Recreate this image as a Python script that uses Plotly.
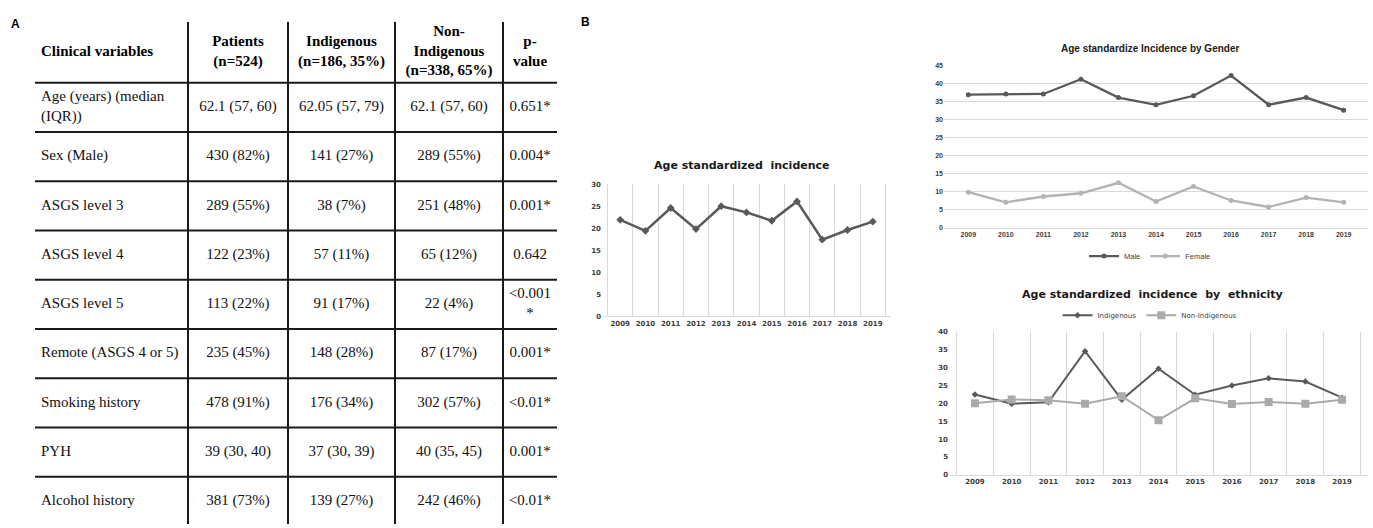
import plotly.graph_objects as go

# ---------------- data ----------------
years = ["2009", "2010", "2011", "2012", "2013", "2014", "2015", "2016", "2017", "2018", "2019"]
overall = [21.9, 19.4, 24.6, 19.8, 25.0, 23.6, 21.7, 26.1, 17.4, 19.6, 21.5]
male = [36.8, 37.0, 37.0, 41.1, 36.0, 34.0, 36.5, 42.1, 34.0, 36.0, 32.5]
female = [9.8, 7.0, 8.6, 9.5, 12.4, 7.2, 11.4, 7.5, 5.7, 8.3, 7.0]
indigenous = [22.5, 19.9, 20.3, 34.6, 21.0, 29.7, 22.4, 25.0, 27.0, 26.1, 21.6]
non_indigenous = [20.0, 21.1, 20.9, 19.9, 22.0, 15.3, 21.4, 19.8, 20.4, 19.9, 21.0]

table_header = ["Clinical variables", "Patients<br>(n=524)", "Indigenous<br>(n=186, 35%)",
                "Non-<br>Indigenous<br>(n=338, 65%)", "p-<br>value"]
variables = ["Age (years) (median<br>(IQR))", "Sex (Male)", "ASGS level 3", "ASGS level 4",
             "ASGS level 5", "Remote (ASGS 4 or 5)", "Smoking history", "PYH", "Alcohol history"]
patients = ["62.1 (57, 60)", "430 (82%)", "289 (55%)", "122 (23%)", "113 (22%)",
            "235 (45%)", "478 (91%)", "39 (30, 40)", "381 (73%)"]
indig = ["62.05 (57, 79)", "141 (27%)", "38 (7%)", "57 (11%)", "91 (17%)",
         "148 (28%)", "176 (34%)", "37 (30, 39)", "139 (27%)"]
nonind = ["62.1 (57, 60)", "289 (55%)", "251 (48%)", "65 (12%)", "22 (4%)",
          "87 (17%)", "302 (57%)", "40 (35, 45)", "242 (46%)"]
pvals = ["0.651*", "0.004*", "0.001*", "0.642", "&lt;0.001<br>*",
         "0.001*", "&lt;0.01*", "0.001*", "&lt;0.01*"]

# ---------------- style ----------------
W, H = 1373, 528
DARK = "#595959"
LIGHT = "#b3b3b3"
GRID = "#d9d9d9"
TICK = dict(family="DejaVu Sans", size=7, color="#404040", weight="bold")
SERIF = "Liberation Serif"

col_widths = [153, 100, 107, 108, 54]
header_h = 62
row_h = 50
table_left, table_right, table_top = 35, 557, 18

fig = go.Figure()

# ---------------- table (panel A) ----------------
col_edges = [0]
for w in col_widths:
    col_edges.append(col_edges[-1] + w)
centers = [(col_edges[i] + col_edges[i + 1]) / 2 for i in range(len(col_widths))]
n_rows = len(variables)
row_centers = [header_h + (i + 0.5) * row_h for i in range(n_rows)]
table_span = H - table_top

fig.add_trace(go.Scatter(
    x=[6], y=[header_h / 2], text=[table_header[0]], mode="text",
    textposition="middle right", xaxis="x4", yaxis="y4", showlegend=False,
    textfont=dict(family=SERIF, size=15, color="#000", weight="bold"), hoverinfo="skip"))
fig.add_trace(go.Scatter(
    x=centers[1:], y=[header_h / 2] * 4, text=table_header[1:], mode="text",
    textposition="middle center", xaxis="x4", yaxis="y4", showlegend=False,
    textfont=dict(family=SERIF, size=15, color="#000", weight="bold"), hoverinfo="skip"))
fig.add_trace(go.Scatter(
    x=[6] * n_rows, y=row_centers, text=variables, mode="text",
    textposition="middle right", xaxis="x4", yaxis="y4", showlegend=False,
    textfont=dict(family=SERIF, size=15, color="#111"), hoverinfo="skip"))
for ci, col in enumerate([patients, indig, nonind, pvals], start=1):
    fig.add_trace(go.Scatter(
        x=[centers[ci]] * n_rows, y=row_centers, text=col, mode="text",
        textposition="middle center", xaxis="x4", yaxis="y4", showlegend=False,
        textfont=dict(family=SERIF, size=15, color="#111"), hoverinfo="skip"))

line_style = dict(color="#1a1a1a", width=2)
for i in range(n_rows):
    yb = header_h + i * row_h
    fig.add_shape(type="line", xref="x4", yref="y4", x0=0, x1=col_edges[-1],
                  y0=yb, y1=yb, line=line_style)
for xe in col_edges[1:-1]:
    fig.add_shape(type="line", xref="x4", yref="y4", x0=xe, x1=xe,
                  y0=0, y1=table_span, line=line_style)

# ---------------- chart 1 ----------------
fig.add_trace(go.Scatter(
    x=years, y=overall, mode="lines+markers", xaxis="x", yaxis="y", showlegend=False,
    line=dict(color=DARK, width=2.5), marker=dict(symbol="diamond", size=6, color=DARK)))

# ---------------- chart 2 ----------------
fig.add_trace(go.Scatter(
    x=years, y=male, mode="lines+markers", name="Male", xaxis="x2", yaxis="y2",
    line=dict(color=DARK, width=2.3), marker=dict(symbol="circle", size=5, color=DARK),
    legend="legend"))
fig.add_trace(go.Scatter(
    x=years, y=female, mode="lines+markers", name="Female", xaxis="x2", yaxis="y2",
    line=dict(color=LIGHT, width=2.3), marker=dict(symbol="circle", size=5, color=LIGHT),
    legend="legend"))

# ---------------- chart 3 ----------------
fig.add_trace(go.Scatter(
    x=years, y=indigenous, mode="lines+markers", name="Indigenous", xaxis="x3", yaxis="y3",
    line=dict(color=DARK, width=2), marker=dict(symbol="diamond", size=5, color=DARK),
    legend="legend2"))
fig.add_trace(go.Scatter(
    x=years, y=non_indigenous, mode="lines+markers", name="Non-Indigenous", xaxis="x3", yaxis="y3",
    line=dict(color="#aaaaaa", width=2), marker=dict(symbol="square", size=8, color="#aaaaaa"),
    legend="legend2"))


def px_x(v):
    return v / W


def px_y(v):
    return 1 - v / H


cat_axis = dict(type="category", ticks="", tickfont=TICK, showline=True, tickangle=0,
                linecolor=GRID, linewidth=1, fixedrange=True)
val_axis = dict(ticks="", tickfont=TICK, zeroline=False, dtick=5, fixedrange=True)


def label(text, x, y, size, family, color="#1a1a1a"):
    return dict(text=text, x=px_x(x), y=px_y(y), xref="paper", yref="paper",
                xanchor="center", yanchor="middle", showarrow=False,
                font=dict(family=family, size=size, color=color, weight="bold"))


fig.update_layout(
    width=W, height=H, margin=dict(l=0, r=0, t=0, b=0),
    paper_bgcolor="white", plot_bgcolor="white",
    xaxis=dict(cat_axis, domain=[px_x(602), px_x(891)], anchor="y",
               tickson="boundaries", showgrid=True, gridcolor=GRID, gridwidth=1),
    yaxis=dict(val_axis, domain=[px_y(317), px_y(183)], anchor="x", range=[0, 30],
               showgrid=False),
    xaxis2=dict(cat_axis, domain=[px_x(944), px_x(1368)], anchor="y2", showgrid=False,
                tickfont=dict(TICK, family="Liberation Sans")),
    yaxis2=dict(val_axis, domain=[px_y(227), px_y(62)], anchor="x2", range=[0, 45],
                showgrid=True, gridcolor=GRID, tickfont=dict(TICK, family="Liberation Sans")),
    xaxis3=dict(cat_axis, domain=[px_x(949), px_x(1368)], anchor="y3",
                tickson="boundaries", showgrid=True, gridcolor=GRID, gridwidth=1),
    yaxis3=dict(val_axis, domain=[px_y(478), px_y(333)], anchor="x3", range=[0, 40],
                showgrid=False),
    xaxis4=dict(domain=[px_x(table_left), px_x(table_right)], range=[0, col_edges[-1]],
                visible=False, anchor="y4", fixedrange=True),
    yaxis4=dict(domain=[0, px_y(table_top)], range=[table_span, 0],
                visible=False, anchor="x4", fixedrange=True),
    legend=dict(orientation="h", x=px_x(1150), xanchor="center", y=px_y(256), yanchor="middle",
                font=dict(family="Liberation Sans", size=7.5, color="#404040"),
                bgcolor="rgba(0,0,0,0)", itemwidth=30),
    legend2=dict(orientation="h", x=px_x(1150), xanchor="center", y=px_y(316), yanchor="middle",
                 font=dict(family="DejaVu Sans", size=7, color="#404040"),
                 bgcolor="rgba(0,0,0,0)", itemwidth=30),
    annotations=[
        label("A", 15, 20, 12, "Liberation Sans", "#000"),
        label("B", 585, 18, 12, "Liberation Sans", "#000"),
        label("Age standardized  incidence", 742, 164, 11, "DejaVu Sans"),
        label("Age standardize Incidence by Gender", 1150, 45, 10, "Liberation Sans"),
        label("Age standardized  incidence  by  ethnicity", 1152, 295, 11, "DejaVu Sans"),
    ],
)

fig.write_html("out.html")
